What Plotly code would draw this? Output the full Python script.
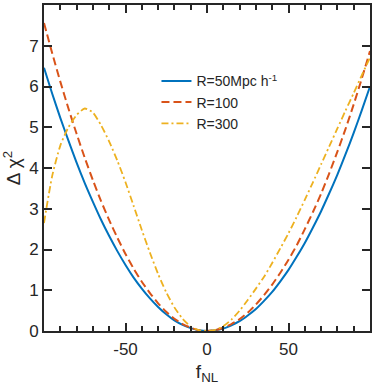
import plotly.graph_objects as go

f_nl = [-100, -95, -90, -85, -80, -75, -70, -65, -60, -55, -50, -45, -40, -35, -30, -25, -20, -15, -10, -5,
        0, 5, 10, 15, 20, 25, 30, 35, 40, 45, 50, 55, 60, 65, 70, 75, 80, 85, 90, 95, 100]

chi2_R50 = [6.46, 5.83, 5.23, 4.67, 4.13, 3.63, 3.17, 2.73, 2.33, 1.96, 1.62, 1.31, 1.04, 0.80, 0.59, 0.41, 0.26, 0.15, 0.07, 0.02,
            0.0, 0.02, 0.06, 0.14, 0.24, 0.38, 0.54, 0.74, 0.96, 1.22, 1.50, 1.82, 2.16, 2.54, 2.94, 3.38, 3.84, 4.34, 4.86, 5.42, 6.00]

chi2_R100 = [7.56, 6.82, 6.12, 5.46, 4.84, 4.25, 3.70, 3.19, 2.72, 2.29, 1.89, 1.53, 1.21, 0.93, 0.68, 0.47, 0.30, 0.17, 0.08, 0.02,
             0.0, 0.02, 0.08, 0.17, 0.29, 0.45, 0.65, 0.88, 1.14, 1.43, 1.75, 2.10, 2.50, 2.92, 3.37, 3.87, 4.40, 4.96, 5.56, 6.20, 6.87]

chi2_R300 = [2.65, 3.80, 4.55, 5.00, 5.30, 5.46, 5.36, 5.05, 4.65, 4.18, 3.65, 3.07, 2.48, 1.92, 1.40, 0.95, 0.58, 0.30, 0.11, 0.02,
             0.0, 0.03, 0.12, 0.28, 0.50, 0.76, 1.04, 1.33, 1.67, 2.03, 2.40, 2.80, 3.22, 3.65, 4.09, 4.53, 4.97, 5.41, 5.84, 6.28, 6.71]

series_names = ["R=50Mpc h<sup>-1</sup>", "R=100", "R=300"]
y_ticks = [0, 1, 2, 3, 4, 5, 6, 7]
y_tick_labels = ["0", "1", "2", "3", "4", "5", "6", "7"]
x_ticks = [-50, 0, 50]
x_tick_labels = ["-50", "0", "50"]

colors = ["#0072BD", "#D95319", "#EDB120"]
dashes = ["solid", "8px,4px", "7px,3px,2px,3px"]
widths = [2, 2, 1.8]

fig = go.Figure()
for name, ys, c, d, w in zip(series_names, [chi2_R50, chi2_R100, chi2_R300], colors, dashes, widths):
    fig.add_trace(go.Scatter(x=f_nl, y=ys, mode="lines", name=name,
                             line=dict(color=c, dash=d, width=w, shape="spline", smoothing=0.6)))

axcol = "#262626"
font = "Liberation Sans, Arial, Helvetica, sans-serif"

fig.update_layout(
    width=374, height=391,
    margin=dict(l=44, r=4, t=5, b=60),
    paper_bgcolor="white", plot_bgcolor="white",
    font=dict(family=font, color=axcol, size=17),
    showlegend=True,
    legend=dict(x=0.345, y=0.815, xanchor="left", yanchor="top",
                bgcolor="rgba(255,255,255,0)", font=dict(size=14, color=axcol),
                tracegroupgap=0, itemwidth=30),
    xaxis=dict(range=[-100, 100], tickvals=x_ticks, ticktext=x_tick_labels, ticks="inside", ticklen=8, tickwidth=2,
               tickcolor=axcol, showline=True, linewidth=2, linecolor=axcol, mirror="ticks",
               showgrid=False, zeroline=False, tickfont=dict(size=17), automargin=False,
               ticklabelstandoff=2,
               minor=dict(dtick=10, tick0=0, ticks="inside", ticklen=5, tickwidth=2, tickcolor=axcol, showgrid=False),
               title=dict(text="f<sub>NL</sub>", font=dict(size=19), standoff=6)),
    yaxis=dict(range=[0, 8], tickvals=y_ticks, ticktext=y_tick_labels, ticks="inside", ticklen=8, tickwidth=2,
               tickcolor=axcol, showline=True, linewidth=2, linecolor=axcol, mirror="ticks",
               showgrid=False, zeroline=False, tickfont=dict(size=17), automargin=False,
               title=dict(text="Δ χ<sup>2</sup>", font=dict(size=19), standoff=4)),
)

fig.write_html("out.html", config={"displayModeBar": False},
               post_script="document.body.style.margin='0';")
